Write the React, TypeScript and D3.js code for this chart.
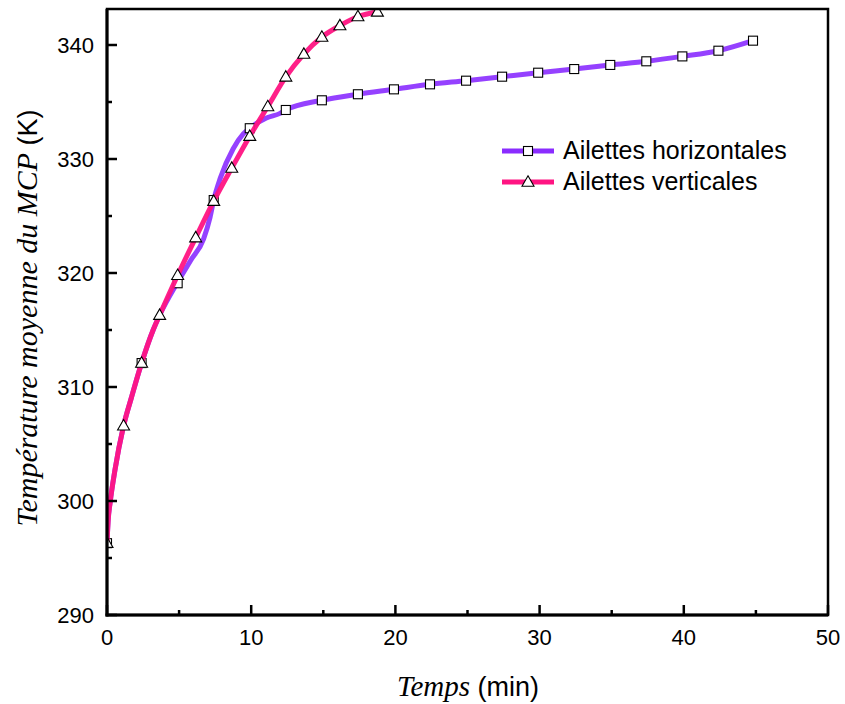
import React from "react";
import * as d3 from "d3";

// ---- Data ----
// Ailettes horizontales: traced line
const horizLineT = [0, 0.08, 0.22, 0.55, 1.15, 1.7, 2.4, 3.2, 3.65, 4.9, 5.8, 6.7, 7.15, 7.4, 7.85, 8.75, 9.45, 9.9, 11.05, 12.0, 12.4, 14.9, 17.4, 19.9, 22.4, 24.9, 27.4, 29.9, 32.4, 34.9, 37.4, 39.9, 42.4, 44.8];
const horizLineV = [296.3, 298.3, 299.9, 302.7, 306.6, 309.1, 312.1, 315.0, 316.3, 319.2, 321.1, 323.0, 324.9, 326.4, 328.3, 330.9, 332.2, 332.7, 333.6, 334.0, 334.3, 335.15, 335.68, 336.11, 336.55, 336.87, 337.22, 337.57, 337.89, 338.25, 338.57, 339.0, 339.5, 340.38];
// Ailettes horizontales: square markers
const horizMarkT = [0, 2.4, 4.9, 7.4, 9.9, 12.4, 14.9, 17.4, 19.9, 22.4, 24.9, 27.4, 29.9, 32.4, 34.9, 37.4, 39.9, 42.4, 44.8];
const horizMarkV = [296.3, 312.1, 319.1, 326.4, 332.7, 334.3, 335.15, 335.68, 336.11, 336.55, 336.87, 337.22, 337.57, 337.89, 338.25, 338.57, 339.0, 339.5, 340.38];

// Ailettes verticales: traced line
const vertLineT = [0, 0.08, 0.22, 0.55, 1.15, 1.7, 2.4, 3.2, 3.65, 4.9, 6.15, 7.4, 8.65, 9.9, 11.15, 12.4, 13.65, 14.9, 16.15, 17.4, 18.75];
const vertLineV = [296.3, 298.3, 299.9, 302.7, 306.6, 309.1, 312.1, 315.0, 316.3, 319.8, 323.1, 326.3, 329.2, 332.0, 334.6, 337.2, 339.2, 340.7, 341.7, 342.5, 342.9];
// Ailettes verticales: triangle markers
const vertMarkT = [0, 1.15, 2.4, 3.65, 4.9, 6.15, 7.4, 8.65, 9.9, 11.15, 12.4, 13.65, 14.9, 16.15, 17.4, 18.75];
const vertMarkV = [296.3, 306.6, 312.1, 316.3, 319.8, 323.1, 326.3, 329.2, 332.0, 334.6, 337.2, 339.2, 340.7, 341.7, 342.5, 342.9];

const xTicks = [0, 10, 20, 30, 40, 50];
const xMinor = [5, 15, 25, 35, 45];
const yTicks = [290, 300, 310, 320, 330, 340];
const yMinor = [295, 305, 315, 325, 335];

const seriesNames = ["Ailettes horizontales", "Ailettes verticales"];

const PURPLE = "#8a2cff";
const PINK = "#ff1482";

export default function App() {
  const W = 845, H = 704;
  const L = 107, R = 828, T = 9, B = 615;
  const x = d3.scaleLinear().domain([0, 50]).range([L, R]);
  const y = d3.scaleLinear().domain([290, 340]).range([B, 45]);

  const line = d3
    .line<[number, number]>()
    .x((d) => x(d[0]))
    .y((d) => y(d[1]))
    .curve(d3.curveMonotoneX);

  const hPath = line(horizLineT.map((t, i) => [t, horizLineV[i]]) as [number, number][]) || "";
  const vPath = line(vertLineT.map((t, i) => [t, vertLineV[i]]) as [number, number][]) || "";

  const sq = 9;
  const tri = (cx: number, cy: number, s = 12) => {
    const h = s * 0.87;
    return `M${cx},${cy - h * 0.6} L${cx + s / 2},${cy + h * 0.4} L${cx - s / 2},${cy + h * 0.4} Z`;
  };

  const sans = "Arial, 'Liberation Sans', sans-serif";
  const serif = "'Times New Roman', 'Liberation Serif', serif";

  return (
    <svg width={W} height={H} style={{ position: "absolute", left: 0, top: 0, background: "#fff" }}>
      <defs>
        <clipPath id="plot">
          <rect x={L} y={T} width={R - L} height={B - T} />
        </clipPath>
      </defs>
      <rect x={0} y={0} width={W} height={H} fill="#fff" />

      <g clipPath="url(#plot)">
        <path d={hPath} fill="none" stroke={PURPLE} strokeWidth={5} strokeLinejoin="round" strokeOpacity={0.9} />
        {horizMarkT.map((t, i) => (
          <rect key={"s" + i} x={x(t) - sq / 2} y={y(horizMarkV[i]) - sq / 2} width={sq} height={sq} fill="#fff" stroke="#000" strokeWidth={1.1} />
        ))}
        <path d={vPath} fill="none" stroke={PINK} strokeWidth={5} strokeLinejoin="round" strokeOpacity={0.95} />
        {vertMarkT.map((t, i) => (
          <path key={"t" + i} d={tri(x(t), y(vertMarkV[i]))} fill="#fff" stroke="#000" strokeWidth={1.1} />
        ))}
      </g>

      {/* frame */}
      <rect x={L} y={T} width={R - L} height={B - T} fill="none" stroke="#000" strokeWidth={2.5} />
      <line x1={L} x2={L} y1={T} y2={B + 1.5} stroke="#000" strokeWidth={3} />
      <line x1={L - 1.5} x2={R} y1={B} y2={B} stroke="#000" strokeWidth={3} />

      {/* x ticks */}
      {xTicks.map((v) => (
        <g key={"xt" + v}>
          <line x1={x(v)} x2={x(v)} y1={B} y2={B - 10} stroke="#000" strokeWidth={2.5} />
          <text x={x(v)} y={B + 30} textAnchor="middle" fontFamily={sans} fontSize={22} fill="#000">
            {v}
          </text>
        </g>
      ))}
      {xMinor.map((v) => (
        <line key={"xm" + v} x1={x(v)} x2={x(v)} y1={B} y2={B - 5} stroke="#000" strokeWidth={2.5} />
      ))}

      {/* y ticks */}
      {yTicks.map((v) => (
        <g key={"yt" + v}>
          <line x1={L} x2={L + 10} y1={y(v)} y2={y(v)} stroke="#000" strokeWidth={2.5} />
          <text x={L - 13} y={y(v) + 8} textAnchor="end" fontFamily={sans} fontSize={22} fill="#000">
            {v}
          </text>
        </g>
      ))}
      {yMinor.map((v) => (
        <line key={"ym" + v} x1={L} x2={L + 5} y1={y(v)} y2={y(v)} stroke="#000" strokeWidth={2.5} />
      ))}

      {/* x title */}
      <text x={468} y={696} textAnchor="middle" fill="#000">
        <tspan fontFamily={serif} fontStyle="italic" fontSize={29}>Temps</tspan>
        <tspan fontFamily={sans} fontSize={27}> (min)</tspan>
      </text>

      {/* y title */}
      <text transform={`translate(37,${318}) rotate(-90)`} textAnchor="middle" fill="#000">
        <tspan fontFamily={serif} fontStyle="italic" fontSize={30}>Température moyenne du MCP</tspan>
        <tspan fontFamily={sans} fontSize={27}> (K)</tspan>
      </text>

      {/* legend */}
      <g>
        <line x1={502} x2={554} y1={151} y2={151} stroke={PURPLE} strokeWidth={5} />
        <rect x={528 - 4.5} y={151 - 4.5} width={9} height={9} fill="#fff" stroke="#000" strokeWidth={1.1} />
        <text x={563} y={159} fontFamily={sans} fontSize={25} fill="#000">{seriesNames[0]}</text>
        <line x1={502} x2={554} y1={182} y2={182} stroke={PINK} strokeWidth={5} />
        <path d={tri(528, 182)} fill="#fff" stroke="#000" strokeWidth={1.1} />
        <text x={563} y={190} fontFamily={sans} fontSize={25} fill="#000">{seriesNames[1]}</text>
      </g>
    </svg>
  );
}
